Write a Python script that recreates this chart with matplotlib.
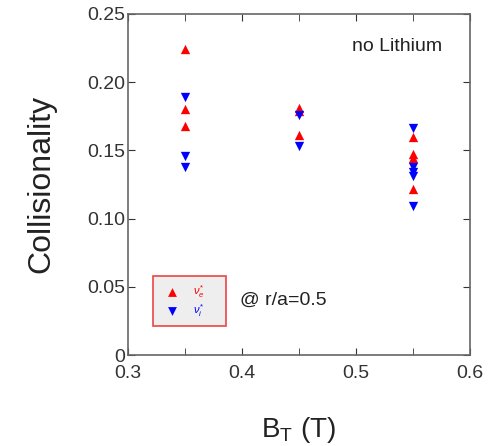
import matplotlib
matplotlib.use("Agg")
from matplotlib import pyplot as plt
from matplotlib.patches import Rectangle

plt.rcParams['font.family'] = ['Liberation Sans', 'DejaVu Sans']
plt.rcParams['mathtext.fontset'] = 'custom'
plt.rcParams['mathtext.rm'] = 'Liberation Sans'
plt.rcParams['mathtext.it'] = 'Liberation Sans:italic'

# data
bt_e = [0.35, 0.35, 0.35, 0.45, 0.45, 0.45, 0.55, 0.55, 0.55, 0.55]
nu_e = [0.224, 0.180, 0.168, 0.181, 0.179, 0.161, 0.160, 0.147, 0.144, 0.122]
bt_i = [0.35, 0.35, 0.35, 0.45, 0.45, 0.55, 0.55, 0.55, 0.55, 0.55]
nu_i = [0.189, 0.146, 0.138, 0.176, 0.153, 0.166, 0.138, 0.134, 0.131, 0.109]

xticks = [0.3, 0.4, 0.5, 0.6]
yticks = [0, 0.05, 0.10, 0.15, 0.20, 0.25]
ylabels = ['0', '0.05', '0.10', '0.15', '0.20', '0.25']

fig = plt.figure(figsize=(4.88, 4.46), dpi=100)
ax = fig.add_axes([0.262, 0.204, 0.701, 0.765])

ax.scatter(bt_e, nu_e, marker='^', color='red', s=45, lw=0, zorder=3)
ax.scatter(bt_i, nu_i, marker='v', color='blue', s=45, lw=0, zorder=3)

ax.set_xlim(0.3, 0.6)
ax.set_ylim(0, 0.25)
ax.set_xticks(xticks)
ax.set_xticks([0.35, 0.45, 0.55], minor=True)
ax.set_yticks(yticks)
ax.set_yticklabels(ylabels)
ax.tick_params(which='both', direction='in', top=True, right=True, labelsize=14,
               colors='#333333', length=5)
ax.tick_params(axis='x', which='both', pad=7)
ax.tick_params(axis='y', which='both', pad=2)
for s in ax.spines.values():
    s.set_color('#666666')
    s.set_linewidth(1.2)

ax.set_xlabel(r'B$_\mathrm{T}$ (T)', fontsize=20, labelpad=24, color='#222222')
ax.set_ylabel('Collisionality', fontsize=23, labelpad=22, color='#222222')

ax.text(0.92, 0.905, 'no Lithium', transform=ax.transAxes, ha='right', va='center',
        fontsize=14, color='#222222')

# legend box
ax.add_patch(Rectangle((0.073, 0.086), 0.215, 0.145, transform=ax.transAxes,
                       facecolor='#eeeeee', edgecolor='#ee4444', lw=1.2, zorder=2))
ax.scatter([0.128], [0.185], marker='^', color='red', s=40, lw=0, transform=ax.transAxes, zorder=3)
ax.scatter([0.128], [0.13], marker='v', color='blue', s=40, lw=0, transform=ax.transAxes, zorder=3)
ax.text(0.19, 0.185, r'$\nu^{*}_{e}$', transform=ax.transAxes, color='red', fontsize=8, va='center')
ax.text(0.19, 0.13, r'$\nu^{*}_{i}$', transform=ax.transAxes, color='blue', fontsize=8, va='center')
ax.text(0.328, 0.16, '@ r/a=0.5', transform=ax.transAxes, fontsize=14, va='center', color='#222222')

fig.savefig('out.png', dpi=100)
